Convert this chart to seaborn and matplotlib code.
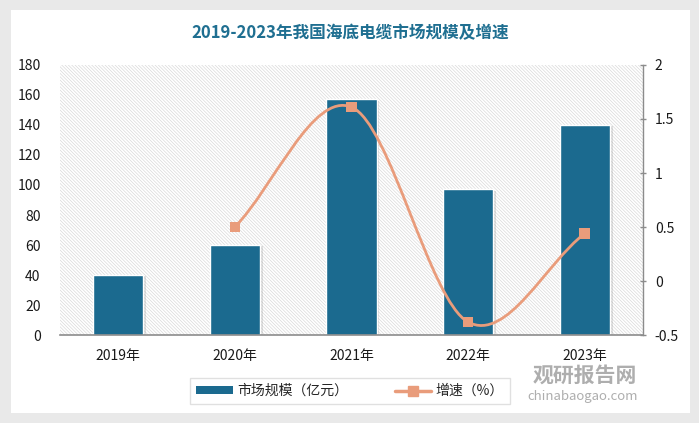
import numpy as np
import pandas as pd
import matplotlib
matplotlib.use("Agg")
import matplotlib.pyplot as plt
import seaborn as sns
from matplotlib.patches import Rectangle, Patch, PathPatch
from matplotlib.lines import Line2D
from matplotlib.path import Path
import matplotlib.patheffects as pe

# ── data ─────────────────────────────────────────────
years = ["2019年", "2020年", "2021年", "2022年", "2023年"]
market_size = [40, 60, 157, 97, 140]          # 亿元
growth_years = ["2020年", "2021年", "2022年", "2023年"]
growth_rate = [0.50, 1.61, -0.38, 0.44]       # %

BAR_C = "#1b6a8f"
LINE_C = "#e99c7b"
TITLE_C = "#1f6f91"

sns.set_theme(style="white")
plt.rcParams["font.family"] = ["Noto Sans CJK SC", "DejaVu Sans"]
plt.rcParams["hatch.linewidth"] = 0.5

fig = plt.figure(figsize=(6.99, 4.23), dpi=100)
fig.patch.set_facecolor("#e9e9e9")
# white card
fig.add_artist(Rectangle((11 / 699, 1 - 413 / 423), 679 / 699, 403 / 423,
                         transform=fig.transFigure, facecolor="white",
                         edgecolor="none", zorder=0))

ax = fig.add_axes([60 / 699, 1 - 335 / 423, 583 / 699, 270 / 423])
ax.set_facecolor("none")
ax.add_patch(Rectangle((0, 0), 1, 1, transform=ax.transAxes, facecolor="white",
                       edgecolor="#d9d9d9", hatch="\\" * 10, lw=0, zorder=0))

df = pd.DataFrame({"year": years, "size": market_size})
sns.barplot(data=df, x="year", y="size", color=BAR_C, width=0.43,
            edgecolor="white", linewidth=1.0, saturation=1, ax=ax, zorder=2)
for p in ax.patches[1:]:
    p.set_path_effects([pe.SimplePatchShadow(offset=(2, -1), alpha=0.25,
                                             shadow_rgbFace="#888888"), pe.Normal()])

ax.set_xlim(-0.5, 4.5)
ax.set_ylim(0, 180)
ax.set_yticks(range(0, 181, 20))
ax.set_xlabel("")
ax.set_ylabel("")
for s in ["top", "right", "left"]:
    ax.spines[s].set_visible(False)
ax.spines["bottom"].set_color("#8c8c8c")
ax.spines["bottom"].set_linewidth(1.2)
ax.tick_params(axis="x", length=0, pad=10, labelsize=10, colors="#1a1a1a")
ax.tick_params(axis="y", length=0, pad=14, labelsize=10, colors="#1a1a1a")

# ── growth line (smooth curve like the original) ──────
ax2 = ax.twinx()
ax2.set_ylim(-0.5, 2)
ax2.set_yticks([-0.5, 0, 0.5, 1, 1.5, 2])
ax2.set_yticklabels(["-0.5", "0", "0.5", "1", "1.5", "2"])
gx = np.array([years.index(y) for y in growth_years], dtype=float)
gy = np.array(growth_rate)
pts = np.column_stack([gx, gy])
n = len(pts)
tang = np.zeros_like(pts)
for i in range(n):
    a = pts[max(i - 1, 0)]
    b = pts[min(i + 1, n - 1)]
    tang[i] = (b - a) / (2 if 0 < i < n - 1 else 1)
verts = [pts[0]]
codes = [Path.MOVETO]
for i in range(n - 1):
    verts += [pts[i] + tang[i] / 3, pts[i + 1] - tang[i + 1] / 3, pts[i + 1]]
    codes += [Path.CURVE4] * 3
ax2.add_patch(PathPatch(Path(verts, codes), facecolor="none", edgecolor=LINE_C,
                        lw=2.0, zorder=3, capstyle="round"))
sns.scatterplot(x=gx, y=gy, marker="s", s=60, color=LINE_C, edgecolor="none",
                ax=ax2, zorder=4)
for s in ["top", "left", "bottom"]:
    ax2.spines[s].set_visible(False)
ax2.spines["right"].set_color("#8c8c8c")
ax2.spines["right"].set_linewidth(1.0)
ax2.tick_params(axis="y", direction="inout", length=5, width=1, color="#8c8c8c",
                pad=6, labelsize=10, colors="#1a1a1a")
ax2.tick_params(axis="y", color="#8c8c8c")

# ── title ──────────────────────────────────────────
fig.text(350 / 699, 1 - 33 / 423, "2019-2023年我国海底电缆市场规模及增速",
         ha="center", va="center", fontsize=12, fontweight="bold", color=TITLE_C)

# ── legend ────────────────────────────────────────
handles = [Patch(facecolor=BAR_C, edgecolor="none"),
           Line2D([0], [0], color=LINE_C, lw=2.5, marker="s", markersize=7)]
leg = fig.legend(handles, ["市场规模（亿元）", "增速（%）"], ncol=2,
                 loc="center", bbox_to_anchor=(350 / 699, 1 - 391 / 423),
                 frameon=True, fancybox=False, fontsize=10, handlelength=2.6,
                 handleheight=0.45, columnspacing=3.4, borderpad=0.45,
                 handletextpad=0.3, borderaxespad=0)
leg.get_frame().set_edgecolor("#d9d9d9")
leg.get_frame().set_linewidth(1.0)

# ── watermark ─────────────────────────────────────
fig.text(585 / 699, 1 - 375 / 423, "观研报告网", ha="center", va="center",
         fontsize=15, fontweight="bold", color="#9a9a9a", alpha=0.8)
fig.text(583 / 699, 1 - 396 / 423, "chinabaogao.com", ha="center", va="center",
         fontsize=9.5, color="#9a9a9a", alpha=0.8)

fig.savefig("out.png", dpi=100, facecolor=fig.get_facecolor())
